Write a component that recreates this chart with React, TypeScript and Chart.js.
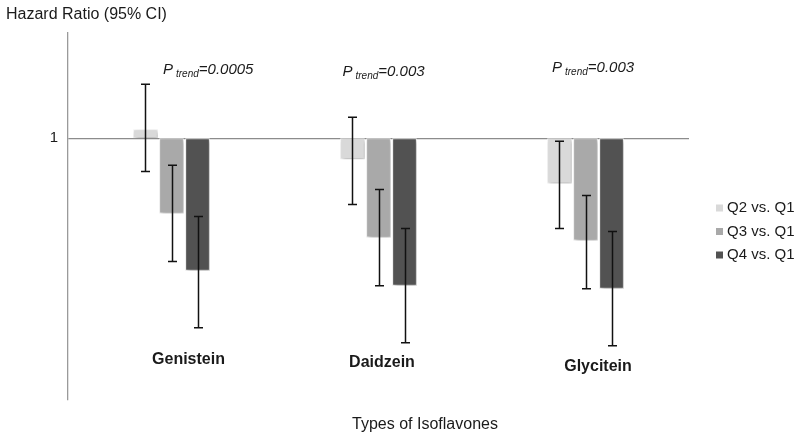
import React, { useEffect, useRef } from 'react';
import { Chart, registerables } from 'chart.js';

Chart.register(...registerables);

// ---- data ----
const categories = ['Genistein', 'Daidzein', 'Glycitein'];
const seriesLabels = ['Q2 vs. Q1', 'Q3 vs. Q1', 'Q4 vs. Q1'];
const q2 = [1.03, 0.93, 0.85];
const q2Lo = [0.89, 0.78, 0.7];
const q2Hi = [1.18, 1.07, 0.99];
const q3 = [0.75, 0.67, 0.66];
const q3Lo = [0.59, 0.51, 0.5];
const q3Hi = [0.91, 0.83, 0.81];
const q4 = [0.56, 0.51, 0.5];
const q4Lo = [0.37, 0.32, 0.31];
const q4Hi = [0.74, 0.7, 0.69];
const pTrend = ['0.0005', '0.003', '0.003'];
const yTicks = [1];
const referenceHR = 1;
const yTitle = 'Hazard Ratio (95% CI)';
const xTitle = 'Types of Isoflavones';

const FONT = '"Liberation Sans", Arial, Helvetica, sans-serif';
const colors = ['#d9d9d9', '#a9a9a9', '#525252'];
const lows = [q2Lo, q3Lo, q4Lo];
const highs = [q2Hi, q3Hi, q4Hi];
const values = [q2, q3, q4];

// annotation placement (layout only)
const pTrendStyle = [
  { dx: -8.5, y: 1.227 },
  { dx: -36, y: 1.22 },
  { dx: -33.5, y: 1.234 },
];
const catLabelStyle = [
  { dx: 17, y: 0.263 },
  { dx: 3.5, y: 0.253 },
  { dx: 12.5, y: 0.24 },
];

const overlayPlugin = {
  id: 'overlay',
  beforeDatasetsDraw(chart: any) {
    const ctx = chart.ctx;
    ctx.save();
    ctx.shadowColor = 'rgba(0,0,0,0.3)';
    ctx.shadowBlur = 4;
    ctx.shadowOffsetX = 1.5;
    ctx.shadowOffsetY = 2;
  },
  afterDatasetsDraw(chart: any) {
    const ctx = chart.ctx;
    ctx.restore();
    const yS = chart.scales.y;
    const xS = chart.scales.x;
    // error bars
    ctx.save();
    ctx.strokeStyle = '#111';
    ctx.lineWidth = 1.5;
    chart.data.datasets.forEach((_ds: any, di: number) => {
      const meta = chart.getDatasetMeta(di);
      meta.data.forEach((el: any, i: number) => {
        const x = Math.round(el.x) + 0.5;
        const yl = yS.getPixelForValue(lows[di][i]);
        const yh = yS.getPixelForValue(highs[di][i]);
        ctx.beginPath();
        ctx.moveTo(x, yh);
        ctx.lineTo(x, yl);
        ctx.moveTo(x - 4.5, yh);
        ctx.lineTo(x + 4.5, yh);
        ctx.moveTo(x - 4.5, yl);
        ctx.lineTo(x + 4.5, yl);
        ctx.stroke();
      });
    });
    ctx.restore();

    ctx.save();
    ctx.fillStyle = '#1a1a1a';
    // P trend labels
    categories.forEach((_c, i) => {
      const cx = xS.getPixelForValue(i);
      const st = pTrendStyle[i];
      let x = cx + st.dx;
      const y = yS.getPixelForValue(st.y);
      ctx.textBaseline = 'middle';
      ctx.textAlign = 'left';
      ctx.font = `italic 15px ${FONT}`;
      ctx.fillText('P', x, y);
      x += ctx.measureText('P').width + 3;
      ctx.font = `italic 10px ${FONT}`;
      ctx.fillText('trend', x, y + 4);
      x += ctx.measureText('trend').width;
      ctx.font = `italic 15px ${FONT}`;
      ctx.fillText('=' + pTrend[i], x, y);
    });
    // category labels
    categories.forEach((c, i) => {
      const cx = xS.getPixelForValue(i);
      const st = catLabelStyle[i];
      ctx.font = `bold 16px ${FONT}`;
      ctx.textAlign = 'center';
      ctx.textBaseline = 'middle';
      ctx.fillText(c, cx + st.dx, yS.getPixelForValue(st.y));
    });
    // axis titles
    ctx.font = `16px ${FONT}`;
    ctx.textAlign = 'left';
    ctx.textBaseline = 'middle';
    ctx.fillText(yTitle, 6, 15);
    ctx.textAlign = 'center';
    ctx.fillText(xTitle, 425, 425);
    // legend
    seriesLabels.forEach((lab, i) => {
      const ly = 208 + i * 23.5;
      ctx.fillStyle = colors[i];
      ctx.fillRect(716, ly - 3.5, 7, 7);
      ctx.fillStyle = '#1a1a1a';
      ctx.textAlign = 'left';
      ctx.font = `15px ${FONT}`;
      ctx.fillText(lab, 727, ly);
    });
    ctx.restore();
  },
};

export default function App() {
  const ref = useRef<HTMLCanvasElement | null>(null);
  useEffect(() => {
    if (!ref.current) return;
    const chart = new Chart(ref.current, {
      type: 'bar',
      data: {
        labels: categories,
        datasets: values.map((v, di) => ({
          label: seriesLabels[di],
          data: v.map((val) => [referenceHR, val]),
          backgroundColor: colors[di],
          borderColor: '#f6f6f6',
          borderWidth: 1,
          borderSkipped: false,
          categoryPercentage: 0.377,
          barPercentage: 0.95,
        })) as any,
      },
      options: {
        animation: false,
        responsive: false,
        layout: { padding: { left: 0, right: 111, top: 33, bottom: 38 } },
        plugins: { legend: { display: false }, tooltip: { enabled: false } },
        scales: {
          x: { display: false },
          y: {
            min: 0.13,
            max: 1.35,
            afterBuildTicks(axis: any) {
              axis.ticks = yTicks.map((v) => ({ value: v }));
            },
            afterFit(scale: any) {
              scale.width = 68;
            },
            ticks: { font: { family: FONT, size: 15 }, color: '#1a1a1a', padding: 10 },
            grid: { color: '#8c8c8c', lineWidth: 1.3, drawTicks: false },
            border: { display: true, color: '#9a9a9a', width: 1.3 },
          },
        },
      },
      plugins: [overlayPlugin],
    });
    return () => chart.destroy();
  }, []);
  return (
    <div style={{ position: 'absolute', left: 0, top: 0, width: 800, height: 438, background: '#fff' }}>
      <canvas ref={ref} width={800} height={438} />
    </div>
  );
}
